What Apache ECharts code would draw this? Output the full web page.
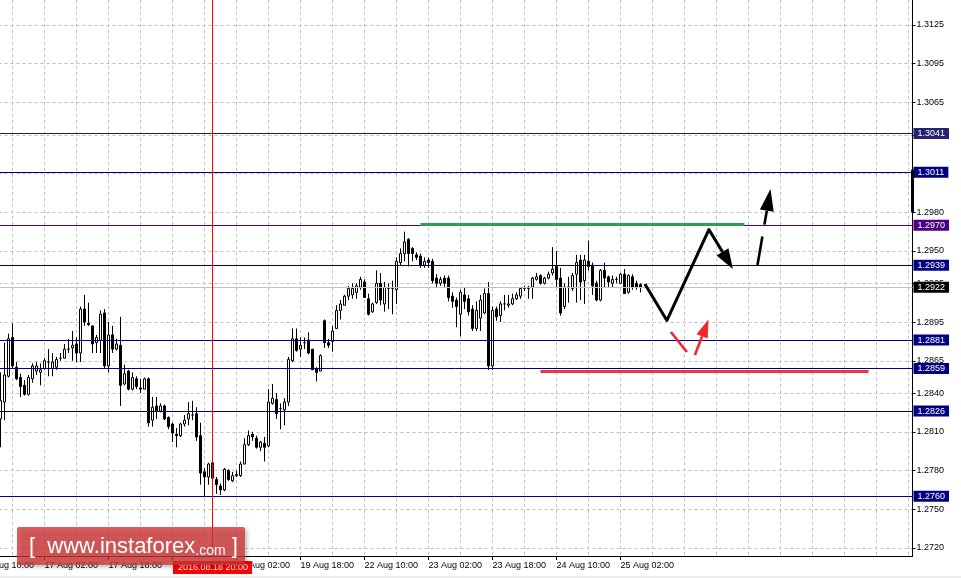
<!DOCTYPE html>
<html><head><meta charset="utf-8">
<script src="https://cdn.jsdelivr.net/npm/echarts@6/dist/echarts.min.js"></script>
<style>html,body{margin:0;padding:0;background:#fff}#c{width:961px;height:578px}</style>
</head><body><div id="c"></div>
<script>
// ================= DATA =================
// hourly candles (GBP/USD H1), first candle = 16 Aug 15:00
const firstCandle = '16 Aug 15:00';
const opens = [
1.2820,1.2833,1.2853,1.2883,1.2860,1.2852,1.2846,1.2839,1.2851,1.2857,
1.2856,1.2859,1.2864,1.2859,1.2860,1.2867,1.2867,1.2874,1.2875,1.2878,
1.2871,1.2905,1.2894,1.2892,1.2879,1.2881,1.2902,1.2861,1.2885,1.2874,
1.2877,1.2847,1.2857,1.2843,1.2851,1.2844,1.2843,1.2851,1.2819,1.2830,
1.2826,1.2830,1.2821,1.2816,1.2808,1.2807,1.2816,1.2820,1.2823,1.2824,
1.2807,1.2779,1.2775,1.2786,1.2773,1.2768,1.2765,1.2780,1.2772,1.2776,
1.2776,1.2785,1.2800,1.2808,1.2805,1.2798,1.2801,1.2799,1.2832,1.2835,
1.2828,1.2827,1.2833,1.2865,1.2882,1.2874,1.2879,1.2881,1.2874,1.2859,
1.2857,1.2896,1.2879,1.2880,1.2890,1.2904,1.2908,1.2915,1.2916,1.2918,
1.2922,1.2926,1.2913,1.2903,1.2910,1.2925,1.2909,1.2921,1.2921,1.2920,
1.2941,1.2948,1.2959,1.2952,1.2947,1.2946,1.2939,1.2943,1.2942,1.2929,
1.2925,1.2929,1.2929,1.2915,1.2912,1.2901,1.2916,1.2913,1.2905,1.2890,
1.2898,1.2902,1.2917,1.2861,1.2905,1.2900,1.2909,1.2908,1.2909,1.2913,
1.2915,1.2921,1.2922,1.2922,1.2928,1.2931,1.2925,1.2929,1.2933,1.2938,
1.2929,1.2907,1.2922,1.2921,1.2932,1.2943,1.2927,1.2942,1.2939,1.2925,
1.2912,1.2935,1.2930,1.2925,1.2928,1.2925,1.2932,1.2918,1.2930,1.2925,
1.2924];
const highs = [
1.2856,1.2879,1.2886,1.2894,1.2864,1.2855,1.2850,1.2854,1.2863,1.2864,
1.2863,1.2867,1.2874,1.2871,1.2868,1.2871,1.2878,1.2882,1.2888,1.2883,
1.2907,1.2916,1.2910,1.2892,1.2885,1.2904,1.2905,1.2895,1.2892,1.2882,
1.2899,1.2862,1.2858,1.2856,1.2853,1.2851,1.2852,1.2852,1.2837,1.2837,
1.2832,1.2831,1.2822,1.2817,1.2813,1.2817,1.2823,1.2833,1.2834,1.2829,
1.2817,1.2782,1.2786,1.2787,1.2775,1.2770,1.2782,1.2781,1.2779,1.2780,
1.2787,1.2805,1.2811,1.2810,1.2807,1.2803,1.2806,1.2843,1.2847,1.2840,
1.2832,1.2836,1.2868,1.2890,1.2890,1.2883,1.2883,1.2887,1.2874,1.2860,
1.2870,1.2897,1.2882,1.2892,1.2908,1.2912,1.2916,1.2923,1.2925,1.2925,
1.2930,1.2928,1.2917,1.2910,1.2935,1.2933,1.2926,1.2925,1.2927,1.2945,
1.2952,1.2965,1.2960,1.2953,1.2949,1.2948,1.2945,1.2945,1.2944,1.2932,
1.2930,1.2931,1.2931,1.2918,1.2914,1.2920,1.2922,1.2916,1.2908,1.2911,
1.2916,1.2921,1.2926,1.2907,1.2907,1.2911,1.2916,1.2916,1.2917,1.2918,
1.2922,1.2923,1.2923,1.2930,1.2933,1.2932,1.2930,1.2934,1.2953,1.2950,
1.2937,1.2925,1.2930,1.2933,1.2947,1.2947,1.2947,1.2958,1.2941,1.2927,
1.2936,1.2941,1.2931,1.2931,1.2930,1.2933,1.2936,1.2932,1.2932,1.2927,
1.2925];
const lows = [
1.2798,1.2819,1.2852,1.2859,1.2850,1.2837,1.2838,1.2838,1.2848,1.2854,
1.2846,1.2858,1.2853,1.2853,1.2858,1.2865,1.2867,1.2871,1.2865,1.2864,
1.2864,1.2892,1.2892,1.2871,1.2871,1.2871,1.2859,1.2856,1.2871,1.2873,
1.2830,1.2846,1.2842,1.2842,1.2843,1.2840,1.2843,1.2814,1.2814,1.2820,
1.2825,1.2819,1.2812,1.2802,1.2798,1.2806,1.2814,1.2815,1.2819,1.2803,
1.2769,1.2760,1.2769,1.2767,1.2762,1.2761,1.2764,1.2772,1.2771,1.2775,
1.2775,1.2785,1.2799,1.2803,1.2797,1.2795,1.2787,1.2798,1.2831,1.2820,
1.2812,1.2815,1.2830,1.2864,1.2872,1.2868,1.2874,1.2870,1.2858,1.2849,
1.2857,1.2875,1.2875,1.2872,1.2890,1.2897,1.2908,1.2912,1.2913,1.2913,
1.2920,1.2914,1.2900,1.2902,1.2909,1.2908,1.2903,1.2905,1.2901,1.2909,
1.2939,1.2942,1.2938,1.2942,1.2943,1.2937,1.2937,1.2937,1.2925,1.2922,
1.2923,1.2922,1.2911,1.2906,1.2891,1.2884,1.2905,1.2900,1.2888,1.2888,
1.2888,1.2901,1.2858,1.2858,1.2896,1.2895,1.2904,1.2906,1.2908,1.2912,
1.2913,1.2919,1.2913,1.2913,1.2927,1.2924,1.2924,1.2928,1.2931,1.2922,
1.2900,1.2905,1.2910,1.2919,1.2910,1.2912,1.2909,1.2935,1.2916,1.2911,
1.2911,1.2922,1.2922,1.2922,1.2925,1.2925,1.2917,1.2917,1.2920,1.2920,
1.2918];
const closes = [
1.2834,1.2854,1.2882,1.2861,1.2851,1.2845,1.2839,1.2852,1.2861,1.2861,
1.2858,1.2865,1.2864,1.2864,1.2866,1.2867,1.2874,1.2874,1.2877,1.2871,
1.2905,1.2895,1.2893,1.2878,1.2883,1.2901,1.2861,1.2885,1.2874,1.2878,
1.2846,1.2855,1.2843,1.2852,1.2845,1.2843,1.2851,1.2817,1.2829,1.2826,
1.2830,1.2820,1.2814,1.2809,1.2807,1.2816,1.2819,1.2824,1.2823,1.2806,
1.2778,1.2775,1.2785,1.2774,1.2769,1.2765,1.2781,1.2773,1.2776,1.2777,
1.2785,1.2800,1.2807,1.2806,1.2798,1.2802,1.2798,1.2833,1.2836,1.2824,
1.2828,1.2833,1.2866,1.2882,1.2873,1.2877,1.2879,1.2871,1.2858,1.2856,
1.2869,1.2879,1.2877,1.2888,1.2904,1.2909,1.2915,1.2921,1.2921,1.2923,
1.2928,1.2914,1.2901,1.2909,1.2925,1.2912,1.2922,1.2921,1.2921,1.2942,
1.2948,1.2957,1.2948,1.2948,1.2945,1.2939,1.2942,1.2941,1.2927,1.2925,
1.2928,1.2925,1.2914,1.2911,1.2907,1.2918,1.2911,1.2903,1.2890,1.2904,
1.2912,1.2917,1.2861,1.2904,1.2899,1.2909,1.2909,1.2909,1.2913,1.2916,
1.2921,1.2921,1.2921,1.2929,1.2930,1.2925,1.2929,1.2932,1.2936,1.2928,
1.2902,1.2922,1.2922,1.2931,1.2941,1.2926,1.2943,1.2938,1.2923,1.2912,
1.2935,1.2929,1.2926,1.2928,1.2928,1.2932,1.2917,1.2931,1.2922,1.2922,
1.2922];

const xTickLabels = ['16 Aug 10:00','17 Aug 02:00','17 Aug 18:00','18 Aug 10:00','19 Aug 02:00',
  '19 Aug 18:00','22 Aug 10:00','23 Aug 02:00','23 Aug 18:00','24 Aug 10:00','25 Aug 02:00'];
const yTickLabels = [1.2720,1.2750,1.2780,1.2810,1.2840,1.2865,1.2895,1.2925,1.2950,1.2980,
  1.3010,1.3040,1.3065,1.3095,1.3125];
const levels = [1.3041,1.3011,1.2970,1.2939,1.2881,1.2859,1.2826,1.2760];
const currentPrice = 1.2922;
const markerTime = '18 Aug 20:00';
const markerText = '2016.08.18 20:00';
const resistance = {from:'23 Aug 00:00', to:'26 Aug 09:00', price:1.29705};
const support = {from:'24 Aug 06:00', to:'29 Aug 16:00', price:1.2857};
const priceScaleMarker = [1.3013, 1.2980];
// forecast sketch: [bar index from first category, price]
const forecastMain = [[166.1,1.29244],[171.6,1.28962],[182.1,1.29666],[188.1,1.29361]];
const forecastBreakout = [[194.25,1.29391],[197.5,1.29980]];
const forecastDip = [[172.6,1.28873],[176.6,1.28718]];
const forecastRebound = [[178.6,1.28694],[182.0,1.28969]];

// ================= BUILD =================
const MON = ['Jan','Feb','Mar','Apr','May','Jun','Jul','Aug','Sep','Oct','Nov','Dec'];
function buildCategories(n){
  const out=[]; let t=Date.UTC(2016,7,16,10);
  while(out.length<n){
    const d=new Date(t), wd=d.getUTCDay();
    if(wd!==0&&wd!==6) out.push(d.getUTCDate()+' '+MON[d.getUTCMonth()]+' '+String(d.getUTCHours()).padStart(2,'0')+':00');
    t+=3600000;
  }
  return out;
}
const categories = buildCategories(234);
const first = categories.indexOf(firstCandle);
const candleData = categories.map((c,i)=>{
  const k=i-first;
  return (k>=0&&k<opens.length)?[opens[k],closes[k],lows[k],highs[k]]:['-','-','-','-'];
});
const labelSet = new Set(xTickLabels);
const FONT = 'Liberation Sans';
const levelStyle = v => v===1.3041?{line:'#1c1c5a',bg:'#24246e'}:v===1.2970?{line:'#4b0082',bg:'#4b0082'}:{line:'#000080',bg:'#000080'};
const lbl = (txt,bg)=>({show:true,position:'end',distance:1,formatter:txt,color:'#fff',backgroundColor:bg,
  padding:[1,4,0,4],fontSize:9,fontFamily:FONT,lineHeight:10});

const mlData = levels.map(v=>({yAxis:v,lineStyle:{color:levelStyle(v).line,width:1,type:'solid'},label:lbl(v.toFixed(4),levelStyle(v).bg)}));
mlData.push({yAxis:currentPrice,lineStyle:{color:'#c0c0c0',width:1,type:'solid'},label:lbl(currentPrice.toFixed(4),'#000')});
mlData.push({xAxis:markerTime,lineStyle:{color:'#ff0000',width:1,type:'solid'},
  label:{show:true,position:'start',distance:5,formatter:markerText,color:'#fff',backgroundColor:'#ff0000',padding:[2,4,1,5],fontSize:9,fontFamily:FONT,lineHeight:10}});
mlData.push([{coord:[resistance.from,resistance.price],lineStyle:{color:'#2f9e55',width:3,type:'solid'},label:{show:false}},{coord:[resistance.to,resistance.price]}]);
mlData.push([{coord:[support.from,support.price],lineStyle:{color:'#f2343c',width:3,type:'solid'},label:{show:false}},{coord:[support.to,support.price]}]);

const dash = {color:'#c0c0c0',width:1,type:[3,3]};
const chart = echarts.init(document.getElementById('c'),null,{renderer:'canvas'});
chart.setOption({
  animation:false,
  backgroundColor:'#ffffff',
  grid:{left:-19.5,right:48.5,top:0,bottom:22,containLabel:false,outerBoundsMode:'none'},
  xAxis:{type:'category',data:categories,boundaryGap:false,
    axisLine:{show:true,lineStyle:{color:'#000',width:1}},
    axisTick:{show:true,interval:(i,v)=>labelSet.has(v),length:4,lineStyle:{color:'#000'}},
    axisLabel:{interval:(i,v)=>labelSet.has(v),align:'left',color:'#000',fontSize:9,fontFamily:FONT,margin:5},
    splitLine:{show:true,interval:7,lineStyle:dash}},
  yAxis:{type:'value',position:'right',min:1.271381,max:1.314436,scale:true,
    axisLine:{show:true,lineStyle:{color:'#000',width:1}},
    axisTick:{show:true,length:3,customValues:yTickLabels,lineStyle:{color:'#000'}},
    axisLabel:{customValues:yTickLabels,formatter:v=>v.toFixed(4),color:'#000',fontSize:9,fontFamily:FONT,margin:4},
    splitLine:{show:true,lineStyle:dash}},
  series:[{type:'candlestick',data:candleData,barWidth:3,silent:true,
    itemStyle:{color:'#ffffff',color0:'#000000',borderColor:'#000000',borderColor0:'#000000',borderWidth:1},
    markLine:{silent:true,symbol:'none',precision:4,animation:false,data:mlData}}]
});

// ---- annotation drawing (converted through the axes) ----
const x0 = chart.convertToPixel({xAxisIndex:0},categories[0]);
const x1 = chart.convertToPixel({xAxisIndex:0},categories[1]);
const px = p=>[x0+p[0]*(x1-x0), chart.convertToPixel({yAxisIndex:0},p[1])];
function head(tip,from,len,half){
  const dx=tip[0]-from[0],dy=tip[1]-from[1],L=Math.hypot(dx,dy),ux=dx/L,uy=dy/L;
  const bx=tip[0]-ux*len,by=tip[1]-uy*len;
  return {base:[bx,by],tri:[[tip[0],tip[1]],[bx-uy*half,by+ux*half],[bx+uy*half,by-ux*half]]};
}
function arrow(path,color,width,len,half,lineDash){
  const pts=path.map(px);
  const h=head(pts[pts.length-1],pts[pts.length-2],len,half);
  const linePts=pts.slice(0,-1).concat([h.base]);
  return [
    {type:'polyline',z:50,shape:{points:linePts},style:{stroke:color,lineWidth:width,fill:null,lineDash:lineDash||null,lineJoin:'round'}},
    {type:'polygon',z:50,shape:{points:h.tri},style:{fill:color}}
  ];
}
const g=[];
g.push(...arrow(forecastMain,'#000',3,20,7));
g.push(...arrow(forecastBreakout,'#000',2.6,22,7,[29,12]));
const dipPts=forecastDip.map(px);
g.push({type:'polyline',z:50,shape:{points:dipPts},style:{stroke:'#f2242c',lineWidth:2.6,fill:null}});
g.push(...arrow(forecastRebound,'#f2242c',2.6,18,6));
// price scale marker on the axis
const axisX = x0+(categories.length-1)*(x1-x0);
const my0=chart.convertToPixel({yAxisIndex:0},priceScaleMarker[0]);
const my1=chart.convertToPixel({yAxisIndex:0},priceScaleMarker[1]);
g.push({type:'rect',z:40,shape:{x:axisX-1.5,y:my0,width:3,height:my1-my0},style:{fill:'#000'}});
// bottom window edge
g.push({type:'rect',z:1,shape:{x:0,y:576,width:961,height:2},style:{fill:'#ececec'}});
// watermark
g.push({type:'group',z:100,children:[
  {type:'rect',z:100,shape:{x:17,y:527,width:228,height:38,r:2},
    style:{fill:'rgba(212,52,52,0.76)',shadowBlur:4,shadowColor:'rgba(0,0,0,0.35)',shadowOffsetX:2,shadowOffsetY:2}},
  {type:'text',z:101,style:{x:29,y:546,verticalAlign:'middle',text:'{a|[  www.instaforex}{b|.com}{a| ]}',
    rich:{a:{fontSize:22,fontFamily:FONT,fill:'#ffffff',color:'#ffffff',lineHeight:24,verticalAlign:'bottom'},
          b:{fontSize:14,fontFamily:FONT,fill:'#ffffff',color:'#ffffff',lineHeight:18,verticalAlign:'bottom'}}}}
]});
chart.setOption({graphic:g});
</script>
</body></html>
